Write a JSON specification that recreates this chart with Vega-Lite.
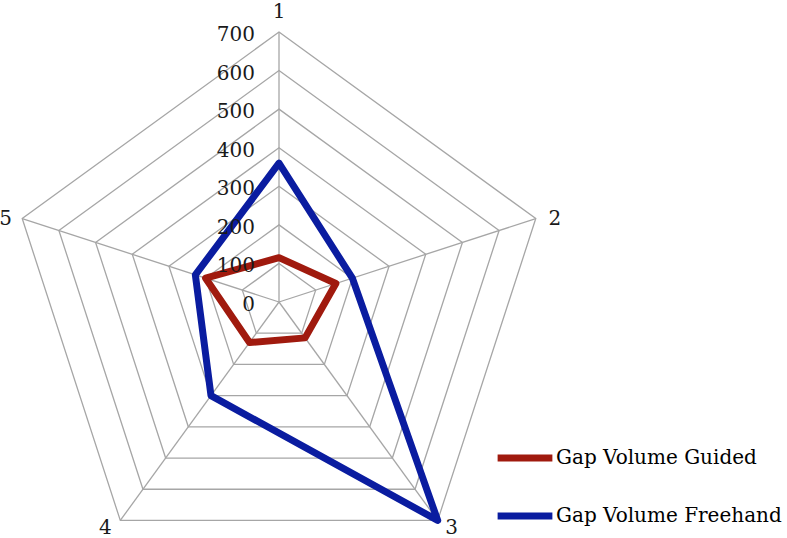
{
  "$schema": "https://vega.github.io/schema/vega-lite/v6.json",
  "width": 787,
  "height": 538,
  "autosize": {"type": "none"},
  "padding": 0,
  "background": "white",
  "config": {"view": {"stroke": null}},
  "datasets": {
    "series": [
      {"series": "Gap Volume Guided", "axis": 1, "value": 115},
      {"series": "Gap Volume Guided", "axis": 2, "value": 155},
      {"series": "Gap Volume Guided", "axis": 3, "value": 115},
      {"series": "Gap Volume Guided", "axis": 4, "value": 130},
      {"series": "Gap Volume Guided", "axis": 5, "value": 200},
      {"series": "Gap Volume Freehand", "axis": 1, "value": 360},
      {"series": "Gap Volume Freehand", "axis": 2, "value": 200},
      {"series": "Gap Volume Freehand", "axis": 3, "value": 700},
      {"series": "Gap Volume Freehand", "axis": 4, "value": 300},
      {"series": "Gap Volume Freehand", "axis": 5, "value": 228}
    ],
    "rings": [
      {"level": 100, "k": [1, 2, 3, 4, 5]},
      {"level": 200, "k": [1, 2, 3, 4, 5]},
      {"level": 300, "k": [1, 2, 3, 4, 5]},
      {"level": 400, "k": [1, 2, 3, 4, 5]},
      {"level": 500, "k": [1, 2, 3, 4, 5]},
      {"level": 600, "k": [1, 2, 3, 4, 5]},
      {"level": 700, "k": [1, 2, 3, 4, 5]}
    ],
    "ticks": [
      {"level": 0}, {"level": 100}, {"level": 200}, {"level": 300},
      {"level": 400}, {"level": 500}, {"level": 600}, {"level": 700}
    ],
    "cats": [
      {"k": 1, "label": "1"}, {"k": 2, "label": "2"}, {"k": 3, "label": "3"},
      {"k": 4, "label": "4"}, {"k": 5, "label": "5"}
    ]
  },
  "layer": [
    {
      "data": {"name": "rings"},
      "transform": [
        {"flatten": ["k"]},
        {"calculate": "datum.level*sin((datum.k-1)*2*PI/5)", "as": "px"},
        {"calculate": "datum.level*cos((datum.k-1)*2*PI/5)", "as": "py"}
      ],
      "mark": {"type": "line", "interpolate": "linear-closed", "stroke": "#a6a6a6", "strokeWidth": 1.3},
      "encoding": {
        "x": {"field": "px", "type": "quantitative", "scale": {"domain": [-723.33, 1317.04], "zero": false, "nice": false}, "axis": null},
        "y": {"field": "py", "type": "quantitative", "scale": {"domain": [-611.85, 782.96], "zero": false, "nice": false}, "axis": null},
        "detail": {"field": "level", "type": "nominal"},
        "order": {"field": "k", "type": "quantitative"}
      }
    },
    {
      "data": {"name": "cats"},
      "transform": [
        {"calculate": "700*sin((datum.k-1)*2*PI/5)", "as": "px"},
        {"calculate": "700*cos((datum.k-1)*2*PI/5)", "as": "py"}
      ],
      "mark": {"type": "rule", "stroke": "#a6a6a6", "strokeWidth": 1.3},
      "encoding": {
        "x": {"field": "px", "type": "quantitative"},
        "y": {"field": "py", "type": "quantitative"},
        "x2": {"datum": 0},
        "y2": {"datum": 0}
      }
    },
    {
      "data": {"name": "series"},
      "transform": [
        {"calculate": "datum.value*sin((datum.axis-1)*2*PI/5)", "as": "px"},
        {"calculate": "datum.value*cos((datum.axis-1)*2*PI/5)", "as": "py"}
      ],
      "mark": {"type": "line", "interpolate": "linear-closed", "strokeWidth": 7, "strokeJoin": "round"},
      "encoding": {
        "x": {"field": "px", "type": "quantitative"},
        "y": {"field": "py", "type": "quantitative"},
        "order": {"field": "axis", "type": "quantitative"},
        "color": {
          "field": "series",
          "type": "nominal",
          "scale": {"domain": ["Gap Volume Guided", "Gap Volume Freehand"], "range": ["#a01a0e", "#0a1ca0"]},
          "legend": {
            "title": null,
            "orient": "none",
            "direction": "vertical",
            "legendX": 494,
            "legendY": 427,
            "symbolType": "stroke",
            "symbolStrokeWidth": 7,
            "symbolSize": 3000,
            "labelFont": "DejaVu Serif",
            "labelFontSize": 20,
            "labelColor": "#000000",
            "labelOffset": 0,
            "rowPadding": 13,
            "labelLimit": 400
          }
        }
      }
    },
    {
      "data": {"name": "ticks"},
      "mark": {"type": "text", "align": "right", "baseline": "middle", "dx": -24, "dy": 3, "font": "DejaVu Serif", "fontSize": 20, "color": "#1a1a1a"},
      "encoding": {
        "x": {"datum": 0, "type": "quantitative"},
        "y": {"field": "level", "type": "quantitative"},
        "text": {"field": "level", "type": "quantitative"}
      }
    },
    {
      "data": {"name": "cats"},
      "transform": [
        {"filter": "datum.k == 1"},
        {"calculate": "700*sin((datum.k-1)*2*PI/5)", "as": "px"},
        {"calculate": "700*cos((datum.k-1)*2*PI/5)", "as": "py"}
      ],
      "mark": {"type": "text", "align": "center", "baseline": "middle", "dy": -20, "font": "DejaVu Serif", "fontSize": 20, "color": "#1a1a1a"},
      "encoding": {
        "x": {"field": "px", "type": "quantitative"},
        "y": {"field": "py", "type": "quantitative"},
        "text": {"field": "label", "type": "nominal"}
      }
    },
    {
      "data": {"name": "cats"},
      "transform": [
        {"filter": "datum.k == 2"},
        {"calculate": "700*sin((datum.k-1)*2*PI/5)", "as": "px"},
        {"calculate": "700*cos((datum.k-1)*2*PI/5)", "as": "py"}
      ],
      "mark": {"type": "text", "align": "center", "baseline": "middle", "dx": 19, "font": "DejaVu Serif", "fontSize": 20, "color": "#1a1a1a"},
      "encoding": {
        "x": {"field": "px", "type": "quantitative"},
        "y": {"field": "py", "type": "quantitative"},
        "text": {"field": "label", "type": "nominal"}
      }
    },
    {
      "data": {"name": "cats"},
      "transform": [
        {"filter": "datum.k == 3"},
        {"calculate": "700*sin((datum.k-1)*2*PI/5)", "as": "px"},
        {"calculate": "700*cos((datum.k-1)*2*PI/5)", "as": "py"}
      ],
      "mark": {"type": "text", "align": "center", "baseline": "middle", "dx": 14, "dy": 8, "font": "DejaVu Serif", "fontSize": 20, "color": "#1a1a1a"},
      "encoding": {
        "x": {"field": "px", "type": "quantitative"},
        "y": {"field": "py", "type": "quantitative"},
        "text": {"field": "label", "type": "nominal"}
      }
    },
    {
      "data": {"name": "cats"},
      "transform": [
        {"filter": "datum.k == 4"},
        {"calculate": "700*sin((datum.k-1)*2*PI/5)", "as": "px"},
        {"calculate": "700*cos((datum.k-1)*2*PI/5)", "as": "py"}
      ],
      "mark": {"type": "text", "align": "center", "baseline": "middle", "dx": -15, "dy": 8, "font": "DejaVu Serif", "fontSize": 20, "color": "#1a1a1a"},
      "encoding": {
        "x": {"field": "px", "type": "quantitative"},
        "y": {"field": "py", "type": "quantitative"},
        "text": {"field": "label", "type": "nominal"}
      }
    },
    {
      "data": {"name": "cats"},
      "transform": [
        {"filter": "datum.k == 5"},
        {"calculate": "700*sin((datum.k-1)*2*PI/5)", "as": "px"},
        {"calculate": "700*cos((datum.k-1)*2*PI/5)", "as": "py"}
      ],
      "mark": {"type": "text", "align": "left", "baseline": "middle", "dx": -23, "font": "DejaVu Serif", "fontSize": 20, "color": "#1a1a1a"},
      "encoding": {
        "x": {"field": "px", "type": "quantitative"},
        "y": {"field": "py", "type": "quantitative"},
        "text": {"field": "label", "type": "nominal"}
      }
    }
  ]
}
